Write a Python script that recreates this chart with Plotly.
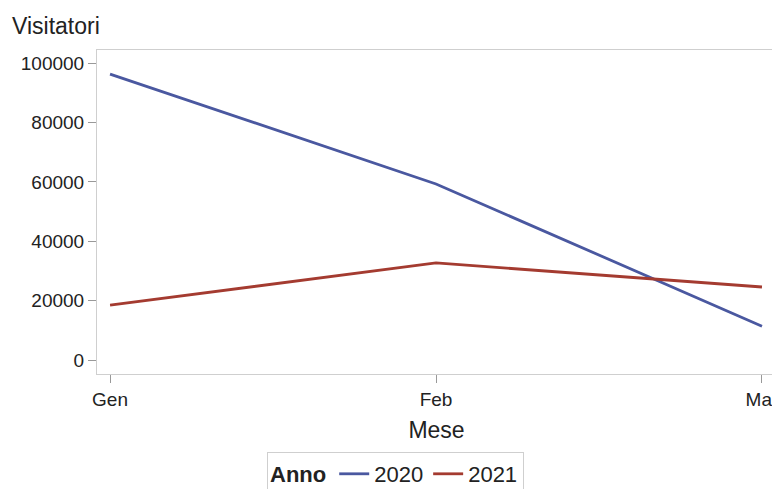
import plotly.graph_objects as go

mesi = ["Gen", "Feb", "Mar"]
visitatori_2020 = [96300, 59300, 11400]
visitatori_2021 = [18500, 32700, 24600]
y_ticks = [0, 20000, 40000, 60000, 80000, 100000]

fig = go.Figure()
fig.add_trace(go.Scatter(x=mesi, y=visitatori_2020, mode="lines", name="2020",
                         line=dict(color="#4a58a0", width=2.8)))
fig.add_trace(go.Scatter(x=mesi, y=visitatori_2021, mode="lines", name="2021",
                         line=dict(color="#a43b30", width=2.8)))

font = "Liberation Sans, Arial, sans-serif"
W, H = 772, 481
L, R, T, B = 89, 4, 42, 115
pw, ph = W - L - R, H - T - B

fig.update_layout(
    width=W, height=H,
    margin=dict(l=L, r=R, t=T, b=B, autoexpand=False),
    paper_bgcolor="white", plot_bgcolor="white",
    font=dict(family=font, color="#222", size=19),
    xaxis=dict(type="category", range=[-0.04, 2.043], showgrid=False,
               showline=True, mirror=True, linecolor="#cfcfcf", linewidth=1,
               ticks="outside", ticklen=8, tickcolor="#999",
               tickfont=dict(size=19), automargin=False,
               title=dict(text="Mese", font=dict(size=23), standoff=13)),
    yaxis=dict(range=[-4700, 104400], showgrid=False, zeroline=False,
               showline=True, mirror=True, linecolor="#cfcfcf", linewidth=1,
               ticks="outside", ticklen=8, tickcolor="#999", automargin=False,
               tickvals=y_ticks, tickformat="d", tickfont=dict(size=19)),
    legend=dict(orientation="h", x=(387.5 - L) / pw, xanchor="center",
                y=-78 / ph, yanchor="top",
                bordercolor="#cfcfcf", borderwidth=1, itemwidth=30,
                font=dict(size=22), tracegroupgap=0,
                title=dict(text="<b>Anno</b>", side="left", font=dict(size=22))),
    annotations=[dict(text="Visitatori", xref="paper", yref="paper",
                      x=(2 - L) / pw, y=1 + (T - 18) / ph, xanchor="left", yanchor="middle",
                      showarrow=False, font=dict(size=23, family=font, color="#222"))],
)

fig.write_html("out.html")
